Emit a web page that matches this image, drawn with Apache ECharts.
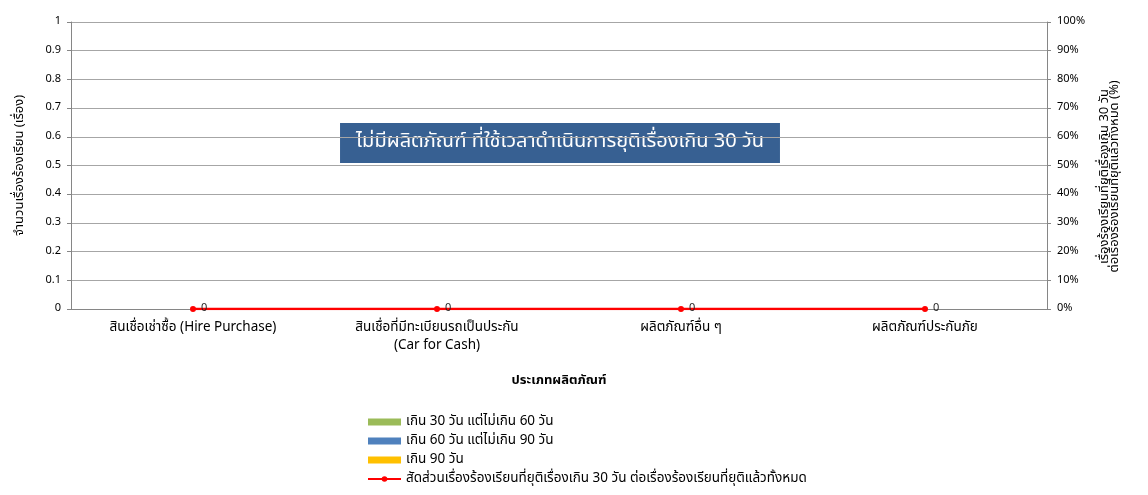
<!DOCTYPE html>
<html>
<head>
<meta charset="utf-8">
<script src="https://cdn.jsdelivr.net/npm/echarts@6/dist/echarts.min.js"></script>
<style>
html,body{margin:0;padding:0;background:#fff;}
#c{width:1148px;height:495px;}
</style>
</head>
<body>
<div id="c"></div>
<script>
const categories = ['สินเชื่อเช่าซื้อ (Hire Purchase)', 'สินเชื่อที่มีทะเบียนรถเป็นประกัน\n(Car for Cash)', 'ผลิตภัณฑ์อื่น ๆ', 'ผลิตภัณฑ์ประกันภัย'];
const over30to60 = [0, 0, 0, 0];
const over60to90 = [0, 0, 0, 0];
const over90 = [0, 0, 0, 0];
const ratioOver30 = [0, 0, 0, 0];
const seriesNames = ['เกิน 30 วัน แต่ไม่เกิน 60 วัน', 'เกิน 60 วัน แต่ไม่เกิน 90 วัน', 'เกิน 90 วัน', 'สัดส่วนเรื่องร้องเรียนที่ยุติเรื่องเกิน 30 วัน ต่อเรื่องร้องเรียนที่ยุติแล้วทั้งหมด'];
const noticeText = 'ไม่มีผลิตภัณฑ์ ที่ใช้เวลาดำเนินการยุติเรื่องเกิน 30 วัน';

const FONT = '"Noto Sans Thai", "Noto Sans", "DejaVu Sans", sans-serif';
const chart = echarts.init(document.getElementById('c'));
chart.setOption({
  animation: false,
  textStyle: {fontFamily: FONT},
  grid: {left: 71, right: 101, top: 22, bottom: 186},
  legend: {
    orient: 'vertical', left: 362, top: 410, itemGap: 5,
    itemWidth: 33, itemHeight: 7,
    textStyle: {fontSize: 13.5, color: '#000', fontFamily: FONT},
    data: [
      {name: seriesNames[0], icon: 'rect'},
      {name: seriesNames[1], icon: 'rect'},
      {name: seriesNames[2], icon: 'rect'},
      {name: seriesNames[3]}
    ]
  },
  xAxis: {
    type: 'category', data: categories,
    name: 'ประเภทผลิตภัณฑ์', nameLocation: 'middle', nameGap: 66,
    nameTextStyle: {fontSize: 13, fontWeight: 'bold', color: '#000'},
    axisLine: {lineStyle: {color: '#868686'}},
    axisTick: {show: false},
    axisLabel: {fontSize: 13.5, color: '#000', margin: 10, lineHeight: 18, interval: 0}
  },
  yAxis: [{
    type: 'value', min: 0, max: 1, interval: 0.1,
    name: 'จำนวนเรื่องร้องเรียน (เรื่อง)', nameLocation: 'middle', nameGap: 44, nameRotate: 90,
    nameTextStyle: {fontSize: 13, color: '#000'},
    axisLine: {show: true, lineStyle: {color: '#868686'}},
    axisTick: {show: true, length: 4, lineStyle: {color: '#868686'}},
    axisLabel: {fontSize: 11, color: '#000', margin: 10, formatter: v => String(Math.round(v * 10) / 10)},
    splitLine: {lineStyle: {color: '#A6A6A6'}}
  }, {
    type: 'value', min: 0, max: 1, interval: 0.1, position: 'right',
    name: 'เรื่องร้องเรียนที่ยุติเรื่องเกิน 30 วัน\nต่อเรื่องร้องเรียนที่ยุติแล้วทั้งหมด (%)', nameLocation: 'middle', nameGap: 53, nameRotate: 90,
    nameTextStyle: {fontSize: 13, color: '#000', lineHeight: 10, padding: [0, 22, 0, 0]},
    axisLine: {show: true, lineStyle: {color: '#868686'}},
    axisTick: {show: true, length: 4, lineStyle: {color: '#868686'}},
    axisLabel: {fontSize: 11, color: '#000', margin: 10, formatter: v => Math.round(v * 100) + '%'},
    splitLine: {show: false}
  }],
  series: [
    {name: seriesNames[0], type: 'bar', stack: 's', data: over30to60, itemStyle: {color: '#9BBB59'}},
    {name: seriesNames[1], type: 'bar', stack: 's', data: over60to90, itemStyle: {color: '#4F81BD'}},
    {name: seriesNames[2], type: 'bar', stack: 's', data: over90, itemStyle: {color: '#FFC000'}},
    {name: seriesNames[3], type: 'line', yAxisIndex: 1, data: ratioOver30,
      symbol: 'circle', symbolSize: 6,
      lineStyle: {color: '#FF0000', width: 2.5}, itemStyle: {color: '#FF0000'},
      label: {show: true, position: 'right', distance: 5, fontSize: 11, color: '#262626', formatter: p => String(p.value)}
    }
  ],
  graphic: [{
    type: 'text', x: 560, y: 143,
    style: {
      text: noticeText, fill: '#fff', fontSize: 20, fontFamily: FONT,
      align: 'center', verticalAlign: 'middle',
      backgroundColor: '#376092', padding: [10, 16, 10, 16]
    }
  }]
});
</script>
</body>
</html>
